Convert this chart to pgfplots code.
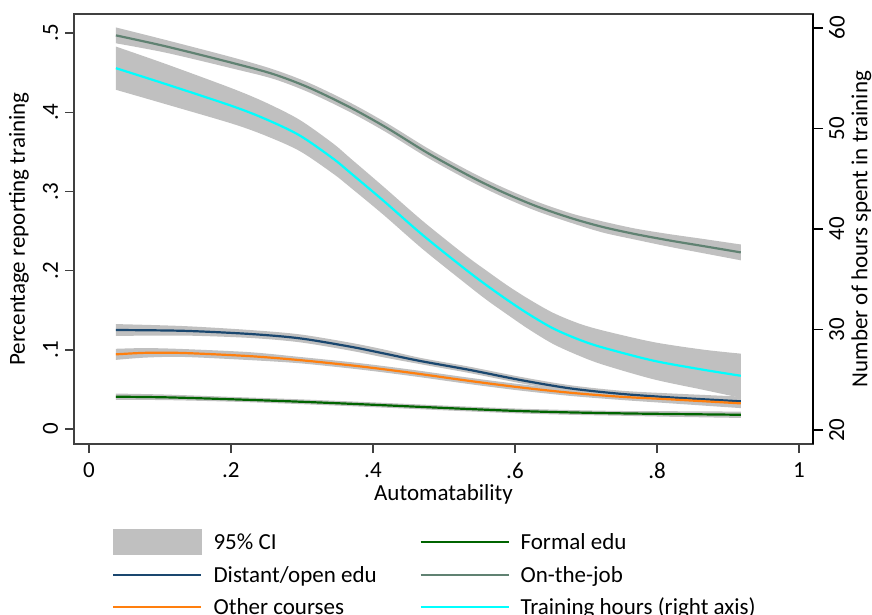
\documentclass[border=0pt]{standalone}
\usepackage{fontspec}
\setmainfont{Carlito}
\usepackage{pgfplots}
\usepackage{pgfplotstable}
\pgfplotsset{compat=1.18}
\usepgfplotslibrary{fillbetween}

\definecolor{ciGray}{RGB}{192,192,192}
\definecolor{otjCol}{RGB}{96,130,114}
\definecolor{navyCol}{RGB}{26,71,111}
\definecolor{orangeCol}{RGB}{255,127,14}
\definecolor{greenCol}{RGB}{0,100,0}
\definecolor{cyanCol}{RGB}{0,255,255}
\definecolor{axGray}{RGB}{64,64,64}

% x = automatability, m = estimate, h = half width of 95% CI
\pgfplotstableread{
x m h
0.038 0.497 0.010
0.109 0.483 0.008
0.203 0.462 0.007
0.260 0.448 0.006
0.310 0.431 0.006
0.368 0.406 0.006
0.420 0.380 0.006
0.478 0.348 0.006
0.537 0.319 0.006
0.583 0.299 0.006
0.631 0.281 0.006
0.680 0.266 0.006
0.724 0.255 0.007
0.770 0.246 0.007
0.818 0.238 0.008
0.865 0.231 0.009
0.918 0.223 0.010
}\otj

\pgfplotstableread{
x m h
0.038 0.125 0.0075
0.133 0.124 0.006
0.227 0.120 0.005
0.297 0.1145 0.005
0.368 0.104 0.005
0.415 0.0955 0.005
0.466 0.086 0.004
0.537 0.0745 0.004
0.607 0.062 0.004
0.677 0.0514 0.004
0.748 0.0445 0.004
0.818 0.040 0.005
0.918 0.035 0.006
}\distant

\pgfplotstableread{
x m h
0.038 0.0943 0.007
0.080 0.0962 0.006
0.133 0.0960 0.005
0.227 0.0920 0.005
0.297 0.0870 0.004
0.368 0.0805 0.004
0.415 0.0755 0.004
0.466 0.0695 0.004
0.537 0.0606 0.004
0.607 0.0526 0.004
0.677 0.0459 0.004
0.748 0.0408 0.004
0.818 0.0375 0.005
0.918 0.0324 0.006
}\other

\pgfplotstableread{
x m h
0.038 0.0408 0.004
0.109 0.0400 0.0035
0.203 0.0375 0.003
0.297 0.0345 0.003
0.391 0.0310 0.003
0.466 0.0280 0.003
0.537 0.0252 0.003
0.607 0.0227 0.003
0.677 0.0210 0.003
0.748 0.0198 0.003
0.818 0.0190 0.0035
0.918 0.0180 0.004
}\formal

\pgfplotstableread{
x m h
0.038 56.0 2.15
0.109 54.4 2.0
0.203 52.2 1.75
0.250 50.9 1.65
0.297 49.3 1.55
0.344 47.0 1.5
0.368 45.6 1.45
0.415 42.8 1.4
0.470 39.4 1.4
0.530 36.0 1.4
0.560 34.4 1.45
0.590 32.9 1.45
0.620 31.5 1.5
0.654 30.1 1.55
0.690 29.0 1.6
0.724 28.2 1.7
0.795 26.9 1.85
0.865 26.0 2.0
0.918 25.4 2.2
}\hours

\begin{document}
\begin{tikzpicture}[font=\fontsize{11.5}{13.8}\selectfont]
\begin{axis}[
  at={(0,0)}, anchor=south west,
  scale only axis, width=369.5pt, height=215pt,
  xmin=-0.021, xmax=1.0197, ymin=-0.0189, ymax=0.524,
  xtick={0,0.2,0.4,0.6,0.8,1}, xticklabels={0,.2,.4,.6,.8,1},
  ytick={0,0.1,0.2,0.3,0.4,0.5}, yticklabels={0,.1,.2,.3,.4,.5},
  xtick pos=bottom, ytick pos=left, tick align=outside,
  major tick length=4.5pt,
  every tick/.style={axGray, line width=0.7pt},
  axis line style={axGray, line width=0.8pt},
  /pgf/number format/assume math mode=true,
  yticklabel style={rotate=90, anchor=south},
  xticklabel shift=1.5pt,
  xlabel={Automatability}, ylabel={Percentage reporting training},
  xlabel style={at={(axis description cs:0.5,-0.118)}, anchor=center},
  ylabel style={at={(axis description cs:-0.0744,0.5)}, anchor=center},
  legend columns=2,
  legend cell align=left,
  legend image code/.code={\draw[#1] (0pt,0pt) -- (44pt,0pt);},
  legend style={at={(axis description cs:0.0514,-0.1977)}, anchor=north west,
    draw=none, fill=none, inner sep=0pt, row sep=3.5pt,
    nodes={inner sep=0pt, text height=10pt, text depth=2.5pt},
    /tikz/every odd column/.append style={column sep=5.5pt},
    /tikz/every even column/.append style={column sep=21.3pt}},
]
\addlegendimage{legend image code/.code={\fill[ciGray] (0pt,-6.25pt) rectangle (44pt,6.25pt);}}
\addlegendentry{95\% CI}
\addlegendimage{greenCol, line width=1.1pt}
\addlegendentry{Formal edu}
\addlegendimage{navyCol, line width=1.1pt}
\addlegendentry{Distant/open edu}
\addlegendimage{otjCol, line width=1.1pt}
\addlegendentry{On-the-job}
\addlegendimage{orangeCol, line width=1.1pt}
\addlegendentry{Other courses}
\addlegendimage{cyanCol, line width=1.1pt}
\addlegendentry{Training hours (right axis)}

% Formal edu
\addplot[draw=none, smooth, forget plot, name path=fu] table[x=x, y expr=\thisrow{m}+\thisrow{h}] {\formal};
\addplot[draw=none, smooth, forget plot, name path=fl] table[x=x, y expr=\thisrow{m}-\thisrow{h}] {\formal};
\addplot[ciGray, forget plot] fill between[of=fu and fl];
% Distant
\addplot[draw=none, smooth, forget plot, name path=du] table[x=x, y expr=\thisrow{m}+\thisrow{h}] {\distant};
\addplot[draw=none, smooth, forget plot, name path=dl] table[x=x, y expr=\thisrow{m}-\thisrow{h}] {\distant};
\addplot[ciGray, forget plot] fill between[of=du and dl];
% Other
\addplot[draw=none, smooth, forget plot, name path=ou] table[x=x, y expr=\thisrow{m}+\thisrow{h}] {\other};
\addplot[draw=none, smooth, forget plot, name path=ol] table[x=x, y expr=\thisrow{m}-\thisrow{h}] {\other};
\addplot[ciGray, forget plot] fill between[of=ou and ol];
% On-the-job
\addplot[draw=none, smooth, forget plot, name path=ju] table[x=x, y expr=\thisrow{m}+\thisrow{h}] {\otj};
\addplot[draw=none, smooth, forget plot, name path=jl] table[x=x, y expr=\thisrow{m}-\thisrow{h}] {\otj};
\addplot[ciGray, forget plot] fill between[of=ju and jl];

\addplot[greenCol, line width=1.1pt, smooth, forget plot] table[x=x, y=m] {\formal};
\addplot[navyCol, line width=1.1pt, smooth, forget plot] table[x=x, y=m] {\distant};
\addplot[orangeCol, line width=1.1pt, smooth, forget plot] table[x=x, y=m] {\other};
\addplot[otjCol, line width=1.1pt, smooth, forget plot] table[x=x, y=m] {\otj};
\end{axis}

\begin{axis}[
  at={(0,0)}, anchor=south west,
  scale only axis, width=369.5pt, height=215pt,
  xmin=-0.021, xmax=1.0197, ymin=18.61, ymax=61.39,
  axis x line=none, axis y line*=right,
  ytick={20,30,40,50,60},
  tick align=outside, major tick length=5pt,
  every tick/.style={black, line width=0.8pt},
  axis line style={black, line width=1.3pt},
  /pgf/number format/assume math mode=true,
  yticklabel style={rotate=90, anchor=north},
  yticklabel shift=-0.5pt,
  ylabel={Number of hours spent in training},
  ylabel style={at={(axis description cs:1.0655,0.5)}, anchor=center},
]
\addplot[draw=none, smooth, name path=hu] table[x=x, y expr=\thisrow{m}+\thisrow{h}] {\hours};
\addplot[draw=none, smooth, name path=hl] table[x=x, y expr=\thisrow{m}-\thisrow{h}] {\hours};
\addplot[ciGray] fill between[of=hu and hl];
\addplot[cyanCol, line width=1.1pt, smooth] table[x=x, y=m] {\hours};
\end{axis}

\pgfresetboundingbox
\useasboundingbox (-37pt,-85.5pt) rectangle (399pt,222pt);
\end{tikzpicture}
\end{document}
